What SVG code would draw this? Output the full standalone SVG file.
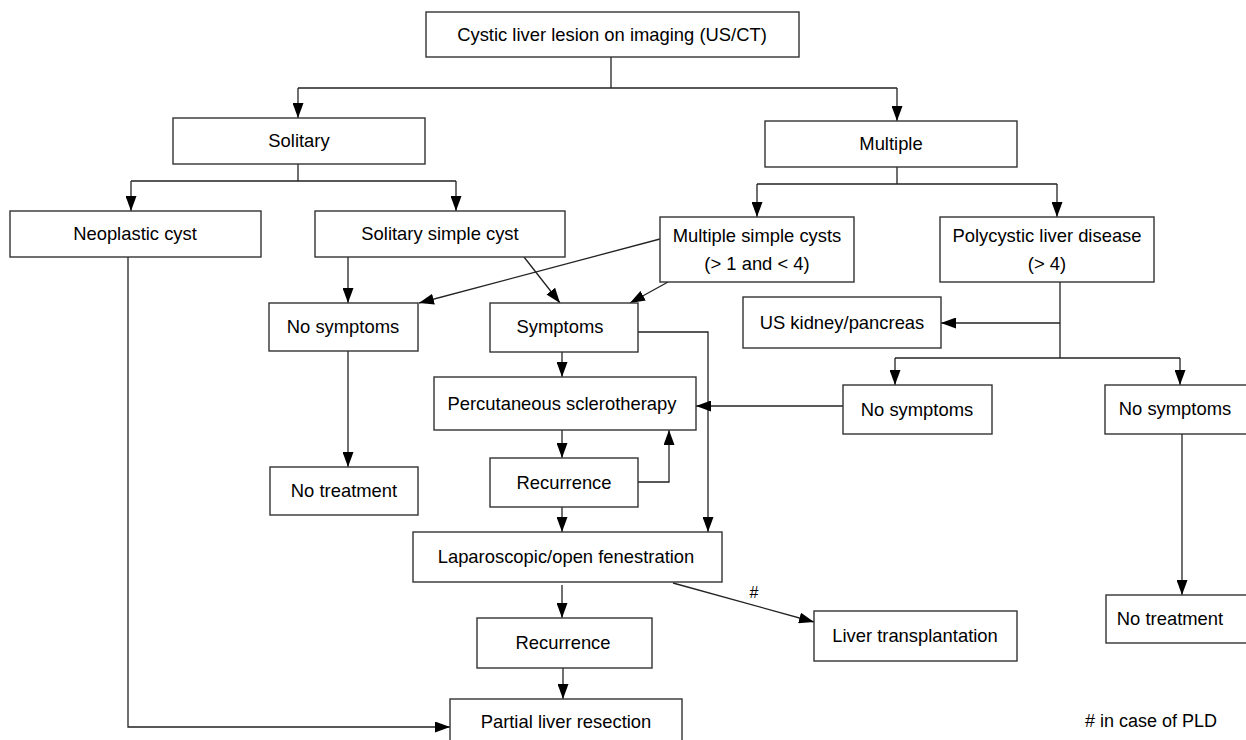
<svg xmlns="http://www.w3.org/2000/svg" width="1246" height="740" viewBox="0 0 1246 740">
<style>
.box{fill:#fff;stroke:#333;stroke-width:1.4}
.t{font-family:"Liberation Sans",Arial,sans-serif;font-size:18.4px;fill:#000;text-anchor:middle}
.c{fill:none;stroke:#222;stroke-width:1.3}
</style>
<defs>
<marker id="ah" markerUnits="userSpaceOnUse" markerWidth="15" markerHeight="11" refX="15" refY="5.5" orient="auto">
<path d="M0,0 L15,5.5 L0,11 z" fill="#000"/>
</marker>
</defs>
<rect width="1246" height="740" fill="#fff"/>
<g id="connectors">
<path class="c" d="M611,57 V88 M298,88 H897"/>
<path class="c" d="M298,88 V118" marker-end="url(#ah)"/>
<path class="c" d="M897,88 V121" marker-end="url(#ah)"/>
<path class="c" d="M298,164 V181 M131,181 H456"/>
<path class="c" d="M131,181 V211" marker-end="url(#ah)"/>
<path class="c" d="M456,181 V211" marker-end="url(#ah)"/>
<path class="c" d="M897,167 V184 M757,184 H1057"/>
<path class="c" d="M757,184 V217" marker-end="url(#ah)"/>
<path class="c" d="M1057,184 V217" marker-end="url(#ah)"/>
<path class="c" d="M128,257 V727 H450" marker-end="url(#ah)"/>
<path class="c" d="M348,257 V303" marker-end="url(#ah)"/>
<path class="c" d="M524,257 L560,303" marker-end="url(#ah)"/>
<path class="c" d="M660,239 L419,303" marker-end="url(#ah)"/>
<path class="c" d="M668,282 L630,303" marker-end="url(#ah)"/>
<path class="c" d="M348,351 V467" marker-end="url(#ah)"/>
<path class="c" d="M562,352 V377" marker-end="url(#ah)"/>
<path class="c" d="M638,332 H708 V532" marker-end="url(#ah)"/>
<path class="c" d="M562,430 V458" marker-end="url(#ah)"/>
<path class="c" d="M638,482 H669 V430" marker-end="url(#ah)"/>
<path class="c" d="M562,507 V532" marker-end="url(#ah)"/>
<path class="c" d="M843,406 H696" marker-end="url(#ah)"/>
<path class="c" d="M562,585 V618" marker-end="url(#ah)"/>
<path class="c" d="M563,668 V699" marker-end="url(#ah)"/>
<path class="c" d="M673,583 L814,622" marker-end="url(#ah)"/>
<text class="t" x="754" y="598" style="font-size:16px">#</text>
<path class="c" d="M1060,282 V358"/>
<path class="c" d="M1060,323 H941" marker-end="url(#ah)"/>
<path class="c" d="M895,358 H1180"/>
<path class="c" d="M895,358 V385" marker-end="url(#ah)"/>
<path class="c" d="M1180,358 V385" marker-end="url(#ah)"/>
<path class="c" d="M1182,434 V595" marker-end="url(#ah)"/>
</g>
<g id="n-top"><rect class="box" x="426" y="12" width="373" height="45"/><text class="t" x="612" y="41">Cystic liver lesion on imaging (US/CT)</text></g>
<g id="n-solitary"><rect class="box" x="173" y="118" width="252" height="46"/><text class="t" x="299" y="147">Solitary</text></g>
<g id="n-multiple"><rect class="box" x="765" y="121" width="252" height="46"/><text class="t" x="891" y="150">Multiple</text></g>
<g id="n-neoplastic"><rect class="box" x="10" y="211" width="251" height="46"/><text class="t" x="135" y="240">Neoplastic cyst</text></g>
<g id="n-solsimple"><rect class="box" x="315" y="211" width="250" height="46"/><text class="t" x="440" y="240">Solitary simple cyst</text></g>
<g id="n-multsimple"><rect class="box" x="660" y="217" width="194" height="65"/><text class="t" x="757" y="242">Multiple simple cysts</text><text class="t" x="757" y="270">(&gt; 1 and &lt; 4)</text></g>
<g id="n-polycystic"><rect class="box" x="940" y="217" width="214" height="65"/><text class="t" x="1047" y="242">Polycystic liver disease</text><text class="t" x="1047" y="270">(&gt; 4)</text></g>
<g id="n-nosym1"><rect class="box" x="269" y="303" width="149" height="48"/><text class="t" x="343" y="333">No symptoms</text></g>
<g id="n-symptoms"><rect class="box" x="490" y="303" width="148" height="49"/><text class="t" x="560" y="333">Symptoms</text></g>
<g id="n-uskidney"><rect class="box" x="743" y="297" width="198" height="51"/><text class="t" x="842" y="329">US kidney/pancreas</text></g>
<g id="n-percut"><rect class="box" x="434" y="377" width="262" height="53"/><text class="t" x="562" y="410">Percutaneous sclerotherapy</text></g>
<g id="n-nosym2"><rect class="box" x="843" y="385" width="149" height="49"/><text class="t" x="917" y="416">No symptoms</text></g>
<g id="n-nosym3"><rect class="box" x="1105" y="385" width="146" height="49"/><text class="t" x="1175" y="415">No symptoms</text></g>
<g id="n-recur1"><rect class="box" x="490" y="458" width="148" height="49"/><text class="t" x="564" y="489">Recurrence</text></g>
<g id="n-notreat1"><rect class="box" x="270" y="467" width="148" height="48"/><text class="t" x="344" y="497">No treatment</text></g>
<g id="n-lap"><rect class="box" x="413" y="532" width="309" height="50"/><text class="t" x="566" y="563">Laparoscopic/open fenestration</text></g>
<g id="n-notreat2"><rect class="box" x="1106" y="595" width="145" height="48"/><text class="t" x="1170" y="625">No treatment</text></g>
<g id="n-livertx"><rect class="box" x="814" y="611" width="203" height="50"/><text class="t" x="915" y="642">Liver transplantation</text></g>
<g id="n-recur2"><rect class="box" x="477" y="618" width="175" height="50"/><text class="t" x="563" y="649">Recurrence</text></g>
<g id="n-partial"><rect class="box" x="450" y="699" width="232" height="50"/><text class="t" x="566" y="728">Partial liver resection</text></g>
<text class="t" x="1151" y="727" style="font-size:18px"># in case of PLD</text>
</svg>
